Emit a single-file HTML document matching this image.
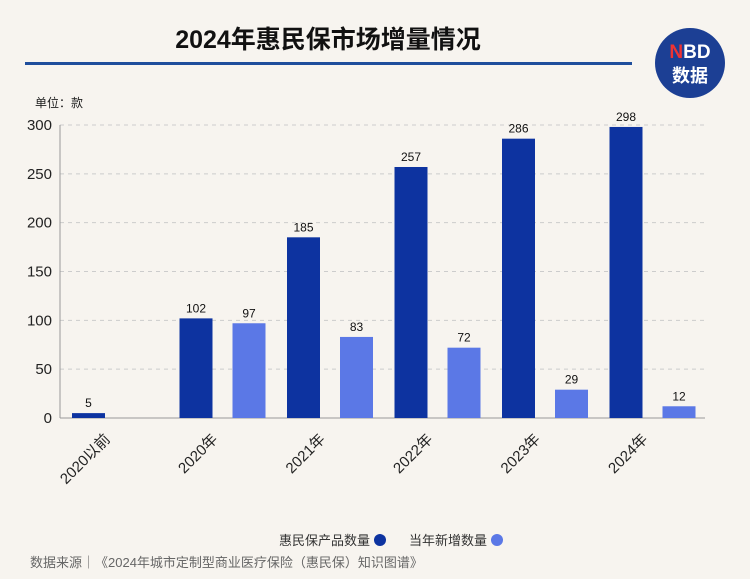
<!DOCTYPE html>
<html><head><meta charset="utf-8"><style>
body{margin:0;background:#f7f4ef;}
svg{display:block;font-family:"Liberation Sans","Noto Sans CJK SC",sans-serif;}
</style></head><body>
<svg id="c" width="750" height="579">
<rect width="750" height="579" fill="#f7f4ef"/>
<text x="328" y="48" text-anchor="middle" font-size="25" font-weight="bold" fill="#111">2024年惠民保市场增量情况</text>
<rect x="25" y="62" width="607" height="3" fill="#1f4e9c"/>
<g>
<circle cx="690" cy="63" r="35" fill="#1c3f94"/>
<text x="690" y="58" text-anchor="middle" font-size="19" font-weight="bold" fill="#fff"><tspan fill="#e33">N</tspan>BD</text>
<text x="690" y="82" text-anchor="middle" font-size="18" font-weight="bold" fill="#fff">数据</text>
</g>
<text x="35" y="107" font-size="12" fill="#222">单位：款</text>
<g id="plot"></g>
<g>
<text x="370" y="545" text-anchor="end" font-size="13" fill="#333">惠民保产品数量</text>
<circle cx="380" cy="540" r="6" fill="#0d33a0"/>
<text x="487" y="545" text-anchor="end" font-size="13" fill="#333">当年新增数量</text>
<circle cx="497" cy="540" r="6" fill="#5b78e6"/>
</g>
<text x="30" y="567" font-size="13" fill="#666">数据来源｜《2024年城市定制型商业医疗保险（惠民保）知识图谱》</text>
</svg>
<script>
const categories=["2020以前","2020年","2021年","2022年","2023年","2024年"];
const totalValues=[5,102,185,257,286,298];
const newValues=[null,97,83,72,29,12];
const yTicks=[0,50,100,150,200,250,300];
const NS="http://www.w3.org/2000/svg";
const g=document.getElementById('plot');
const x0=60,x1=705,yb=418,yt=125;
const y=v=>yb-(v/300)*(yb-yt);
const gw=107.5,gx=i=>72+i*gw,bw=33;
function el(t,a,txt){const e=document.createElementNS(NS,t);for(const k in a)e.setAttribute(k,a[k]);if(txt!=null)e.textContent=txt;g.appendChild(e);return e;}
yTicks.forEach(v=>{
 if(v>0){const l=el('line',{x1:x0,x2:x1,y1:y(v),y2:y(v),stroke:'#ccc','stroke-dasharray':'4,4'});
 }
 const t=el('text',{x:52,y:y(v)+5,'text-anchor':'end','font-size':15,fill:'#222'},v);
 
});
const ax=el('line',{x1:x0,x2:x0,y1:yt,y2:yb,stroke:'#999'});

const bx=el('line',{x1:x0,x2:x1,y1:yb,y2:yb,stroke:'#999'});

categories.forEach((c,i)=>{
 const v=totalValues[i];
 const r=el('rect',{x:gx(i),y:y(v),width:bw,height:yb-y(v),fill:'#0d33a0'});
 
 const t=el('text',{x:gx(i)+bw/2,y:y(v)-6,'text-anchor':'middle','font-size':12,fill:'#111'},v);
 
 const n=newValues[i];
 if(n!=null){
  const r2=el('rect',{x:gx(i)+53,y:y(n),width:bw,height:yb-y(n),fill:'#5b78e6'});
  
  const t2=el('text',{x:gx(i)+53+bw/2,y:y(n)-6,'text-anchor':'middle','font-size':12,fill:'#111'},n);
  
 }
 const cx=gx(i)+39;
 const lab=el('text',{x:cx,y:440,'text-anchor':'end','font-size':15,fill:'#222',transform:`rotate(-45 ${cx} 440)`},c);
 
});
</script>
</body></html>
